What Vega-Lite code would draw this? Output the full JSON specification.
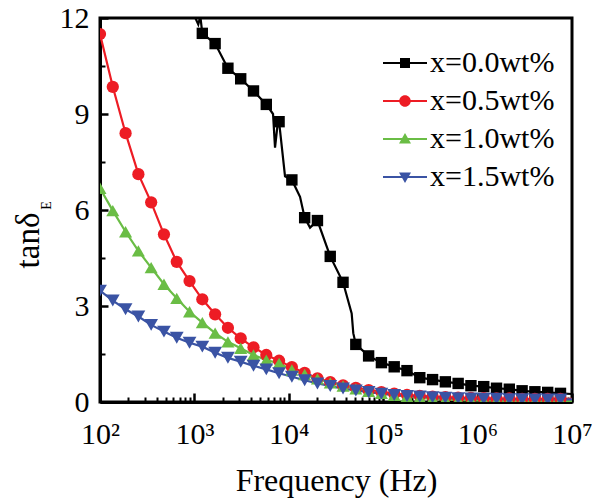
{
  "$schema": "https://vega.github.io/schema/vega-lite/v6.json",
  "width": 472,
  "height": 384,
  "autosize": {"type": "none"},
  "padding": {"left": 100, "top": 18, "right": 29, "bottom": 98},
  "background": "white",
  "config": {
    "view": {"stroke": "black", "strokeWidth": 3},
    "font": "Liberation Serif",
    "axis": {"grid": false, "labelFont": "Liberation Serif", "titleFont": "Liberation Serif", "labelColor": "black", "titleColor": "black", "tickColor": "black", "domainColor": "black", "titleFontWeight": "normal"},
    "legend": {"labelFont": "Liberation Serif", "titleFont": "Liberation Serif"}
  },
  "datasets": {
    "curve": [
      {"s": "x=0.0wt%", "f": 650.1, "v": 13.5},
      {"s": "x=0.0wt%", "f": 888.2, "v": 12.4},
      {"s": "x=0.0wt%", "f": 1099, "v": 11.8},
      {"s": "x=0.0wt%", "f": 1156, "v": 12.05},
      {"s": "x=0.0wt%", "f": 1213.4, "v": 11.52},
      {"s": "x=0.0wt%", "f": 1657.7, "v": 11.2},
      {"s": "x=0.0wt%", "f": 2264.6, "v": 10.43},
      {"s": "x=0.0wt%", "f": 3093.9, "v": 10.1},
      {"s": "x=0.0wt%", "f": 4226.7, "v": 9.72},
      {"s": "x=0.0wt%", "f": 5774.4, "v": 9.3},
      {"s": "x=0.0wt%", "f": 6808, "v": 9.0},
      {"s": "x=0.0wt%", "f": 7148, "v": 7.95},
      {"s": "x=0.0wt%", "f": 7691, "v": 8.8},
      {"s": "x=0.0wt%", "f": 7888.6, "v": 8.76},
      {"s": "x=0.0wt%", "f": 9120, "v": 7.05},
      {"s": "x=0.0wt%", "f": 10777, "v": 6.94},
      {"s": "x=0.0wt%", "f": 13153, "v": 6.41},
      {"s": "x=0.0wt%", "f": 14723, "v": 5.76},
      {"s": "x=0.0wt%", "f": 16788, "v": 5.45},
      {"s": "x=0.0wt%", "f": 20114, "v": 5.67},
      {"s": "x=0.0wt%", "f": 27479, "v": 4.55},
      {"s": "x=0.0wt%", "f": 37541, "v": 3.74},
      {"s": "x=0.0wt%", "f": 46345, "v": 2.77},
      {"s": "x=0.0wt%", "f": 48195, "v": 2.15},
      {"s": "x=0.0wt%", "f": 51286, "v": 1.8},
      {"s": "x=0.0wt%", "f": 70064, "v": 1.44},
      {"s": "x=0.0wt%", "f": 95719, "v": 1.23},
      {"s": "x=0.0wt%", "f": 130767, "v": 1.1},
      {"s": "x=0.0wt%", "f": 178649, "v": 0.98},
      {"s": "x=0.0wt%", "f": 244062, "v": 0.76},
      {"s": "x=0.0wt%", "f": 333426, "v": 0.7},
      {"s": "x=0.0wt%", "f": 455511, "v": 0.63},
      {"s": "x=0.0wt%", "f": 622300, "v": 0.58},
      {"s": "x=0.0wt%", "f": 850155, "v": 0.51},
      {"s": "x=0.0wt%", "f": 1161449, "v": 0.48},
      {"s": "x=0.0wt%", "f": 1586726, "v": 0.43},
      {"s": "x=0.0wt%", "f": 2167704, "v": 0.4},
      {"s": "x=0.0wt%", "f": 2961409, "v": 0.35},
      {"s": "x=0.0wt%", "f": 4045723, "v": 0.32},
      {"s": "x=0.0wt%", "f": 5527062, "v": 0.3},
      {"s": "x=0.0wt%", "f": 7550799, "v": 0.27},
      {"s": "x=0.0wt%", "f": 10000000, "v": 0.25},

      {"s": "x=0.5wt%", "f": 100, "v": 11.5},
      {"s": "x=0.5wt%", "f": 136.6, "v": 9.85},
      {"s": "x=0.5wt%", "f": 186.6, "v": 8.4},
      {"s": "x=0.5wt%", "f": 255.0, "v": 7.12},
      {"s": "x=0.5wt%", "f": 348.3, "v": 6.24},
      {"s": "x=0.5wt%", "f": 475.9, "v": 5.24},
      {"s": "x=0.5wt%", "f": 650.1, "v": 4.38},
      {"s": "x=0.5wt%", "f": 888.2, "v": 3.78},
      {"s": "x=0.5wt%", "f": 1213.4, "v": 3.21},
      {"s": "x=0.5wt%", "f": 1657.7, "v": 2.74},
      {"s": "x=0.5wt%", "f": 2264.6, "v": 2.32},
      {"s": "x=0.5wt%", "f": 3093.9, "v": 1.99},
      {"s": "x=0.5wt%", "f": 4226.7, "v": 1.71},
      {"s": "x=0.5wt%", "f": 5774.4, "v": 1.47},
      {"s": "x=0.5wt%", "f": 7888.6, "v": 1.29},
      {"s": "x=0.5wt%", "f": 10777, "v": 1.09},
      {"s": "x=0.5wt%", "f": 14723, "v": 0.91},
      {"s": "x=0.5wt%", "f": 20114, "v": 0.74},
      {"s": "x=0.5wt%", "f": 27479, "v": 0.62},
      {"s": "x=0.5wt%", "f": 37541, "v": 0.52},
      {"s": "x=0.5wt%", "f": 51286, "v": 0.44},
      {"s": "x=0.5wt%", "f": 70064, "v": 0.37},
      {"s": "x=0.5wt%", "f": 95719, "v": 0.31},
      {"s": "x=0.5wt%", "f": 130767, "v": 0.26},
      {"s": "x=0.5wt%", "f": 178649, "v": 0.22},
      {"s": "x=0.5wt%", "f": 244062, "v": 0.19},
      {"s": "x=0.5wt%", "f": 333426, "v": 0.17},
      {"s": "x=0.5wt%", "f": 455511, "v": 0.15},
      {"s": "x=0.5wt%", "f": 622300, "v": 0.14},
      {"s": "x=0.5wt%", "f": 850155, "v": 0.13},
      {"s": "x=0.5wt%", "f": 1161449, "v": 0.12},
      {"s": "x=0.5wt%", "f": 1586726, "v": 0.11},
      {"s": "x=0.5wt%", "f": 2167704, "v": 0.11},
      {"s": "x=0.5wt%", "f": 2961409, "v": 0.1},
      {"s": "x=0.5wt%", "f": 4045723, "v": 0.1},
      {"s": "x=0.5wt%", "f": 5527062, "v": 0.1},
      {"s": "x=0.5wt%", "f": 7550799, "v": 0.1},
      {"s": "x=0.5wt%", "f": 10000000, "v": 0.1},

      {"s": "x=1.0wt%", "f": 100, "v": 6.68},
      {"s": "x=1.0wt%", "f": 136.6, "v": 5.98},
      {"s": "x=1.0wt%", "f": 186.6, "v": 5.32},
      {"s": "x=1.0wt%", "f": 255.0, "v": 4.72},
      {"s": "x=1.0wt%", "f": 348.3, "v": 4.2},
      {"s": "x=1.0wt%", "f": 475.9, "v": 3.68},
      {"s": "x=1.0wt%", "f": 650.1, "v": 3.24},
      {"s": "x=1.0wt%", "f": 888.2, "v": 2.82},
      {"s": "x=1.0wt%", "f": 1213.4, "v": 2.48},
      {"s": "x=1.0wt%", "f": 1657.7, "v": 2.15},
      {"s": "x=1.0wt%", "f": 2264.6, "v": 1.88},
      {"s": "x=1.0wt%", "f": 3093.9, "v": 1.68},
      {"s": "x=1.0wt%", "f": 4226.7, "v": 1.47},
      {"s": "x=1.0wt%", "f": 5774.4, "v": 1.31},
      {"s": "x=1.0wt%", "f": 7888.6, "v": 1.21},
      {"s": "x=1.0wt%", "f": 10777, "v": 1.0},
      {"s": "x=1.0wt%", "f": 14723, "v": 0.86},
      {"s": "x=1.0wt%", "f": 20114, "v": 0.72},
      {"s": "x=1.0wt%", "f": 27479, "v": 0.6},
      {"s": "x=1.0wt%", "f": 37541, "v": 0.5},
      {"s": "x=1.0wt%", "f": 51286, "v": 0.41},
      {"s": "x=1.0wt%", "f": 70064, "v": 0.33},
      {"s": "x=1.0wt%", "f": 95719, "v": 0.27},
      {"s": "x=1.0wt%", "f": 130767, "v": 0.21},
      {"s": "x=1.0wt%", "f": 178649, "v": 0.17},
      {"s": "x=1.0wt%", "f": 244062, "v": 0.13},
      {"s": "x=1.0wt%", "f": 333426, "v": 0.1},
      {"s": "x=1.0wt%", "f": 455511, "v": 0.08},
      {"s": "x=1.0wt%", "f": 622300, "v": 0.06},
      {"s": "x=1.0wt%", "f": 850155, "v": 0.05},
      {"s": "x=1.0wt%", "f": 1161449, "v": 0.04},
      {"s": "x=1.0wt%", "f": 1586726, "v": 0.04},
      {"s": "x=1.0wt%", "f": 2167704, "v": 0.03},
      {"s": "x=1.0wt%", "f": 2961409, "v": 0.03},
      {"s": "x=1.0wt%", "f": 4045723, "v": 0.03},
      {"s": "x=1.0wt%", "f": 5527062, "v": 0.03},
      {"s": "x=1.0wt%", "f": 7550799, "v": 0.03},
      {"s": "x=1.0wt%", "f": 10000000, "v": 0.03},

      {"s": "x=1.5wt%", "f": 100, "v": 3.48},
      {"s": "x=1.5wt%", "f": 136.6, "v": 3.17},
      {"s": "x=1.5wt%", "f": 186.6, "v": 2.9},
      {"s": "x=1.5wt%", "f": 255.0, "v": 2.67},
      {"s": "x=1.5wt%", "f": 348.3, "v": 2.41},
      {"s": "x=1.5wt%", "f": 475.9, "v": 2.2},
      {"s": "x=1.5wt%", "f": 650.1, "v": 2.01},
      {"s": "x=1.5wt%", "f": 888.2, "v": 1.85},
      {"s": "x=1.5wt%", "f": 1213.4, "v": 1.73},
      {"s": "x=1.5wt%", "f": 1657.7, "v": 1.54},
      {"s": "x=1.5wt%", "f": 2264.6, "v": 1.38},
      {"s": "x=1.5wt%", "f": 3093.9, "v": 1.26},
      {"s": "x=1.5wt%", "f": 4226.7, "v": 1.13},
      {"s": "x=1.5wt%", "f": 5774.4, "v": 1.02},
      {"s": "x=1.5wt%", "f": 7888.6, "v": 0.9},
      {"s": "x=1.5wt%", "f": 10777, "v": 0.79},
      {"s": "x=1.5wt%", "f": 14723, "v": 0.68},
      {"s": "x=1.5wt%", "f": 20114, "v": 0.58},
      {"s": "x=1.5wt%", "f": 27479, "v": 0.5},
      {"s": "x=1.5wt%", "f": 37541, "v": 0.42},
      {"s": "x=1.5wt%", "f": 51286, "v": 0.36},
      {"s": "x=1.5wt%", "f": 70064, "v": 0.31},
      {"s": "x=1.5wt%", "f": 95719, "v": 0.26},
      {"s": "x=1.5wt%", "f": 130767, "v": 0.22},
      {"s": "x=1.5wt%", "f": 178649, "v": 0.19},
      {"s": "x=1.5wt%", "f": 244062, "v": 0.17},
      {"s": "x=1.5wt%", "f": 333426, "v": 0.15},
      {"s": "x=1.5wt%", "f": 455511, "v": 0.13},
      {"s": "x=1.5wt%", "f": 622300, "v": 0.12},
      {"s": "x=1.5wt%", "f": 850155, "v": 0.11},
      {"s": "x=1.5wt%", "f": 1161449, "v": 0.1},
      {"s": "x=1.5wt%", "f": 1586726, "v": 0.1},
      {"s": "x=1.5wt%", "f": 2167704, "v": 0.09},
      {"s": "x=1.5wt%", "f": 2961409, "v": 0.09},
      {"s": "x=1.5wt%", "f": 4045723, "v": 0.08},
      {"s": "x=1.5wt%", "f": 5527062, "v": 0.08},
      {"s": "x=1.5wt%", "f": 7550799, "v": 0.08},
      {"s": "x=1.5wt%", "f": 10000000, "v": 0.08}
    ]
  },
  "data": {"name": "curve"},
  "layer": [
    {
      "mark": {"type": "line", "clip": true, "strokeWidth": 2.2},
      "encoding": {
        "x": {"field": "f", "type": "quantitative",
          "scale": {"type": "log", "domain": [100, 10000000]},
          "axis": {"orient": "bottom", "values": [100, 1000, 10000, 100000, 1000000, 10000000],
            "labelExpr": "datum.value==100?'10²':datum.value==1000?'10³':datum.value==10000?'10⁴':datum.value==100000?'10⁵':datum.value==1000000?'10⁶':'10⁷'",
            "labelFont": "Liberation Serif", "titleFont": "Liberation Serif",
            "labelFontSize": 30, "labelPadding": 26, "labelFlush": false, "labelOverlap": false,
            "tickSize": -9, "tickWidth": 2.5, "domainWidth": 3,
            "title": "Frequency (Hz)", "titleFontSize": 32, "titleX": 236, "titleY": 88, "titleAlign": "center", "titleBaseline": "alphabetic"}},
        "y": {"field": "v", "type": "quantitative",
          "scale": {"domain": [0, 12]},
          "axis": {"orient": "left", "values": [0, 3, 6, 9, 12],
            "labelFont": "Liberation Serif", "titleFont": "Liberation Serif",
            "labelFontSize": 30, "labelPadding": 19, "labelFlush": false, "labelOverlap": false,
            "tickSize": -8, "tickWidth": 2.5, "domainWidth": 3,
            "title": "tanδ", "titleFontSize": 33, "titleAngle": 270, "titleX": -62, "titleY": 222, "titleAlign": "center", "titleBaseline": "alphabetic"}},
        "color": {"field": "s", "type": "nominal",
          "scale": {"domain": ["x=0.0wt%", "x=0.5wt%", "x=1.0wt%", "x=1.5wt%"], "range": ["#000000", "#ED1C24", "#6ABD45", "#3A53A4"]},
          "legend": null}
      }
    },
    {
      "transform": [{"filter": "datum.v <= 12 && datum.f < 9000000 && (datum.s != 'x=0.0wt%' || indexof([1213.4,1657.7,2264.6,3093.9,4226.7,5774.4,7888.6,10777,14723,20114,27479,37541,51286,70064,95719,130767,178649,244062,333426,455511,622300,850155,1161449,1586726,2167704,2961409,4045723,5527062,7550799], datum.f) >= 0)"}],
      "mark": {"type": "point", "filled": true, "clip": true, "opacity": 1},
      "encoding": {
        "x": {"field": "f", "type": "quantitative",
          "axis": {"orient": "bottom", "values": [200,300,400,500,600,700,800,900,2000,3000,4000,5000,6000,7000,8000,9000,20000,30000,40000,50000,60000,70000,80000,90000,200000,300000,400000,500000,600000,700000,800000,900000,2000000,3000000,4000000,5000000,6000000,7000000,8000000,9000000],
            "labels": false, "domain": false, "tickSize": -5, "tickWidth": 2, "title": null}},
        "y": {"field": "v", "type": "quantitative",
          "axis": {"orient": "left", "values": [1.5, 4.5, 7.5, 10.5],
            "labels": false, "domain": false, "tickSize": -5, "tickWidth": 2,
            "title": "E", "titleFont": "Liberation Serif", "titleFontSize": 14, "titleAngle": 270, "titleX": -50, "titleY": 187, "titleAlign": "center", "titleBaseline": "alphabetic"}},
        "color": {"field": "s", "type": "nominal",
          "scale": {"domain": ["x=0.0wt%", "x=0.5wt%", "x=1.0wt%", "x=1.5wt%"], "range": ["#000000", "#ED1C24", "#6ABD45", "#3A53A4"]},
          "legend": null},
        "shape": {"field": "s", "type": "nominal",
          "scale": {"domain": ["x=0.0wt%", "x=0.5wt%", "x=1.0wt%", "x=1.5wt%"], "range": ["square", "circle", "triangle-up", "triangle-down"]},
          "legend": null},
        "size": {"field": "s", "type": "nominal",
          "scale": {"domain": ["x=0.0wt%", "x=0.5wt%", "x=1.0wt%", "x=1.5wt%"], "range": [130, 190, 240, 240]},
          "legend": null}
      }
    },
    {
      "transform": [{"filter": "false"}],
      "mark": {"type": "point", "filled": true, "opacity": 1},
      "encoding": {
        "x": {"field": "f", "type": "quantitative", "axis": null},
        "y": {"field": "v", "type": "quantitative", "axis": null},
        "color": {"field": "s", "type": "nominal",
          "scale": {"domain": ["x=0.0wt%", "x=0.5wt%", "x=1.0wt%", "x=1.5wt%"], "range": ["#000000", "#ED1C24", "#6ABD45", "#3A53A4"]},
          "legend": {"title": null, "orient": "none", "legendX": 290, "legendY": 30, "padding": 0,
            "labelFontSize": 30, "labelFont": "Liberation Serif", "labelColor": "black", "labelOffset": 10,
            "symbolSize": 100, "rowPadding": 8, "symbolOpacity": 1}},
        "shape": {"field": "s", "type": "nominal",
          "scale": {"domain": ["x=0.0wt%", "x=0.5wt%", "x=1.0wt%", "x=1.5wt%"],
            "range": ["M-4.4,-0.22H4.4V0.22H-4.4ZM-1,-1H1V1H-1Z", "M-4.4,-0.22H4.4V0.22H-4.4ZM-1.15,0A1.15,1.15,0,1,1,1.15,0A1.15,1.15,0,1,1,-1.15,0Z", "M-4.4,-0.22H4.4V0.22H-4.4ZM0,-1.2L1.2,0.9H-1.2Z", "M-4.4,-0.22H4.4V0.22H-4.4ZM0,1.2L-1.2,-0.9H1.2Z"]},
          "legend": {"title": null, "orient": "none", "legendX": 290, "legendY": 30, "padding": 0,
            "labelFontSize": 30, "labelFont": "Liberation Serif", "labelColor": "black", "labelOffset": 10,
            "symbolSize": 100, "rowPadding": 8, "symbolOpacity": 1}}
      }
    }
  ],
  "resolve": {
    "axis": {"x": "independent", "y": "independent"},
    "scale": {"color": "independent", "shape": "independent", "size": "independent"},
    "legend": {"color": "independent", "shape": "independent", "size": "independent"}
  }
}
